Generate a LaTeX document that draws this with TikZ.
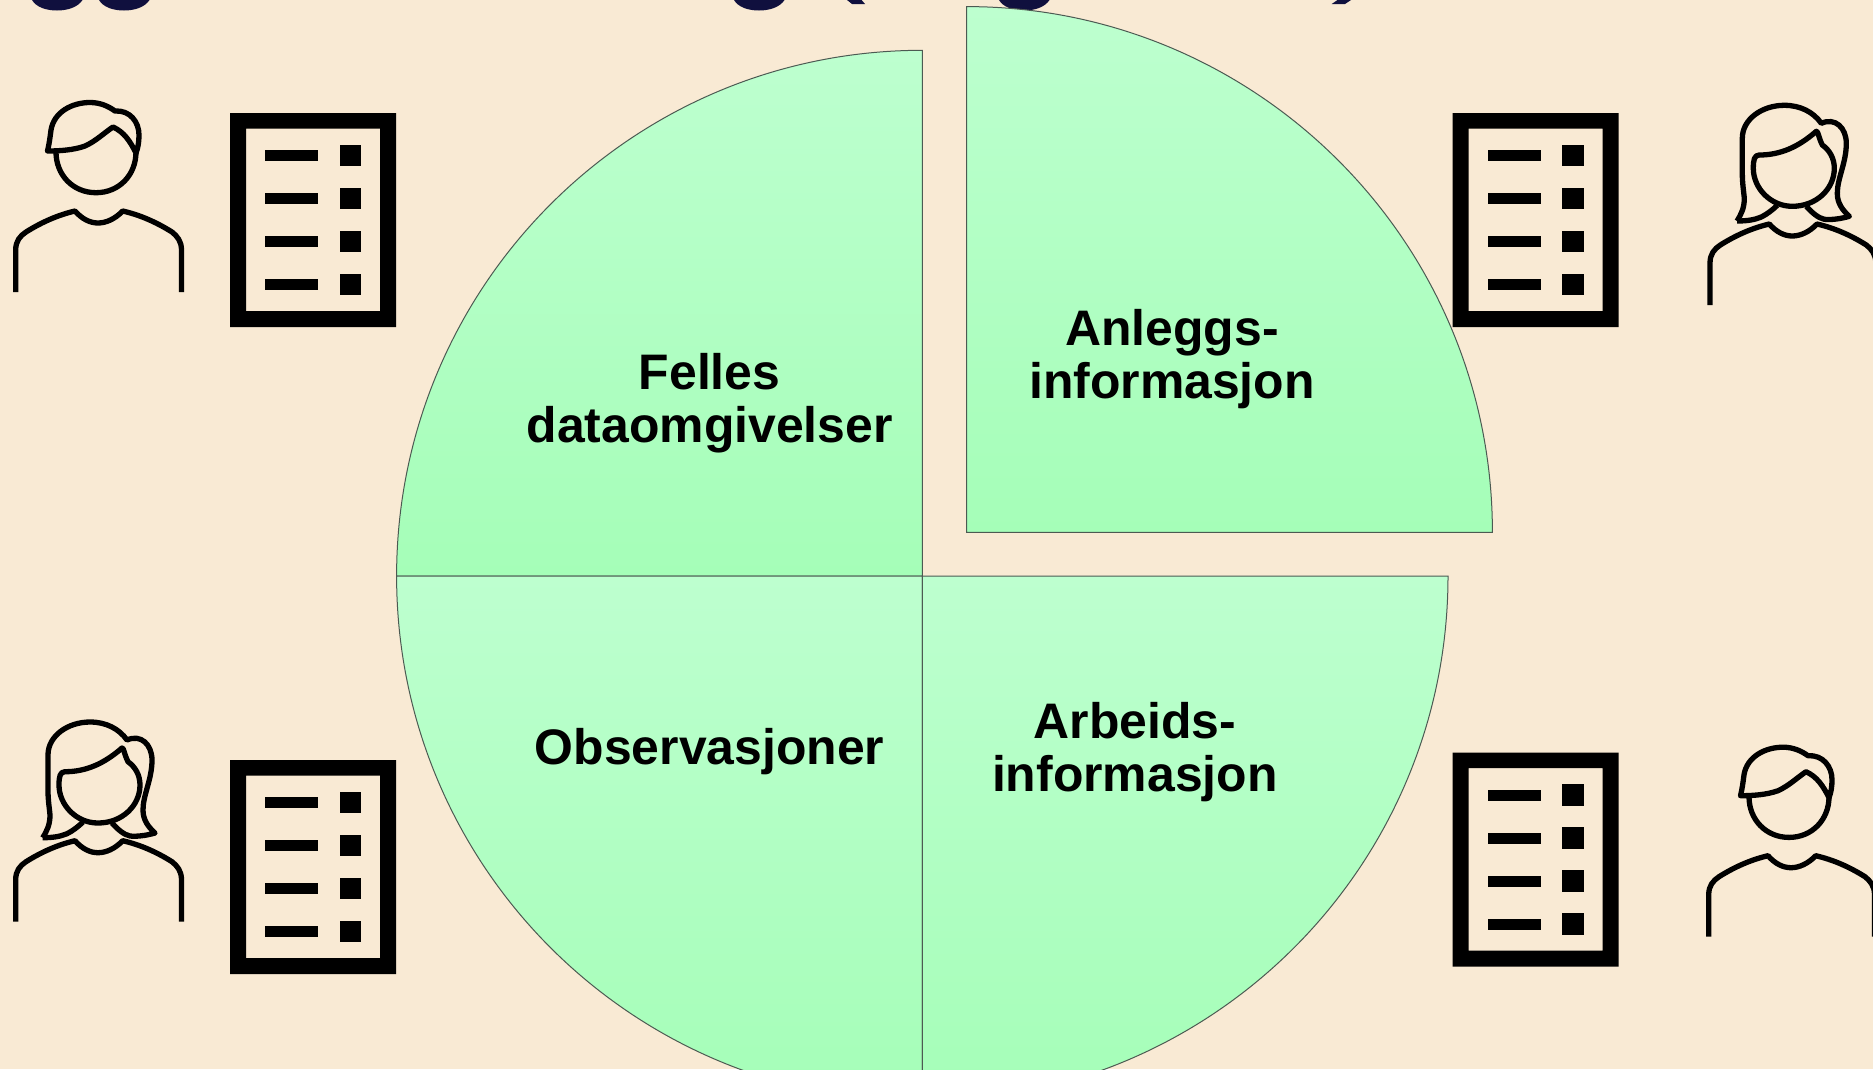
\documentclass[tikz,border=0pt]{standalone}
\usepackage{xcolor}
\usepackage{fontspec}
\setmainfont{Liberation Sans}
\usetikzlibrary{positioning}

\definecolor{paper}{HTML}{F9EAD4}
\definecolor{titlenavy}{HTML}{10103E}
\definecolor{sectortop}{HTML}{BDFFCF}
\definecolor{sectorbottom}{HTML}{A5FEB8}
\definecolor{sectoredge}{HTML}{4C5A52}

\tikzset{
  sector/.style = {draw=sectoredge, line width=1pt, line join=miter, top color=sectortop, bottom color=sectorbottom},
  sectorlabel/.style = {align=center, inner sep=0pt, font=\bfseries\fontsize{49.9}{53}\selectfont},
  iconline/.style = {draw=black, line width=5.3pt, line join=round},
  torso/.pic = {
    \draw[iconline] (15.7,292) -- (15.7,250) .. controls (15.7,241) and (20,236) .. (26,232)
      .. controls (42,222) and (58,215) .. (75,211)
      .. controls (82,219) and (90,223) .. (98,223)
      .. controls (106,223) and (115,219) .. (122.7,211)
      .. controls (140,215) and (156,222) .. (172,232)
      .. controls (177,236) and (181.5,241) .. (181.5,250) -- (181.5,292);
  },
  man/.pic = {
    \pic {torso};
    \draw[iconline] (56,152) .. controls (56,175) and (73,192.7) .. (96,192.7)
      .. controls (119,192.7) and (136,175) .. (136,152);
    \draw[iconline] (47.5,151) .. controls (49,145) and (50,138) .. (51,130)
      .. controls (54,112) and (72,102.5) .. (90,102.5)
      .. controls (100,102.5) and (108,106) .. (115,111)
      .. controls (130,110) and (139,122) .. (139,135)
      .. controls (139,142) and (138,148) .. (136,153)
      .. controls (130,141) and (124,132) .. (113,127)
      .. controls (104,133) and (96,141) .. (85,146)
      .. controls (74,150) and (60,151) .. (47.5,151) -- cycle;
  },
  woman/.pic = {
    \pic {torso};
    \draw[iconline] (65,142) .. controls (86,142) and (104,134) .. (122,118.3)
      .. controls (124,118.3) and (124,124) .. (128,132)
      .. controls (135,137) and (140,145) .. (140,155.3)
      .. controls (140,176) and (122,193.3) .. (98,193.3)
      .. controls (76,193.3) and (59,175) .. (59,155.3)
      .. controls (59,147) and (60,142) .. (65,142) -- cycle;
    \draw[iconline] (42.7,208) .. controls (47,201) and (50,195) .. (50,185.3)
      .. controls (49,175) and (48,170) .. (48,160.3)
      -- (48,125.3) .. controls (48,106) and (68,92.3) .. (90,92.3)
      .. controls (106,92.3) and (119,99) .. (127,110.3)
      .. controls (141,104) and (152,115) .. (152,130.3)
      .. controls (152,150) and (143,165) .. (143,180.3)
      .. controls (143,190) and (148,197) .. (155,203.3)
      .. controls (146,206) and (136,207) .. (130,206.3)
      .. controls (124,205) and (118,200) .. (112,193.3);
    \draw[iconline] (42.7,208) .. controls (52,208) and (60,207) .. (67,204)
      .. controls (73,201) and (78,197) .. (83,192.3);
  },
  listform/.pic = {
    \fill[black, even odd rule] (0,0) rectangle (166,214) (16,15.5) rectangle (150,198);
    \foreach \row in {0,1,2,3} {
      \fill[black] (35,37+43*\row) rectangle (88,48+43*\row);
      \fill[black] (109.5,31.7+43*\row) rectangle (131,53.2+43*\row);
    }
  },
  titledrop/.pic = {
    \fill[titlenavy] (0,0) .. controls (4,7) and (14,10.5) .. (25,10.5)
      .. controls (36,10.5) and (46,7) .. (50.5,0) -- cycle;
  },
}

\begin{document}
\begin{tikzpicture}[x=1pt, y=-1pt, on grid]
    \clip (0,0) rectangle (1873,1069);
    \fill[paper] (0,0) rectangle (1873,1069);

    \pic at (32,0) {titledrop};
    \pic at (99,0) {titledrop};
    \pic at (734,0) {titledrop};
    \pic at (999,0) {titledrop};
    \fill[titlenavy] (847,0) -- (852,4) -- (865,4) -- (861.6,0) -- cycle;
    \fill[titlenavy] (1337.5,0) -- (1331.7,4) -- (1345,4) -- (1351,0) -- cycle;

    \coordinate (centre) at (922.3,576);
    \coordinate (shifted) at (966.7,532.3);
    \draw[sector] (centre) -- ++(-525.7,0) arc[start angle=180, end angle=270, radius=525.7] -- cycle;
    \draw[sector] (shifted) -- ++(0,-525.7) arc[start angle=270, end angle=360, radius=525.7] -- cycle;
    \draw[sector] (centre) -- ++(0,525.7) arc[start angle=90, end angle=180, radius=525.7] -- cycle;
    \draw[sector] (centre) -- ++(525.7,0) arc[start angle=0, end angle=90, radius=525.7] -- cycle;

    \node[sectorlabel] (felles) at (709.6,403) {Felles\\dataomgivelser};
    \node[sectorlabel, above right=44pt and 462.4pt of felles] (anlegg) {Anleggs-\\informasjon};
    \node[sectorlabel, below right=349pt and 425.2pt of felles] (arbeid) {Arbeids-\\informasjon};
    \node[sectorlabel, below=349pt of felles] (observasjon) {Observasjoner};

    \coordinate (formfelles) at (230,113);
    \coordinate[right=1222.7pt of formfelles] (formanlegg);
    \coordinate[below=647pt of formfelles] (formobs);
    \coordinate[below=639.7pt of formanlegg] (formarbeid);
    \pic at (formfelles) {listform};
    \pic at (formanlegg) {listform};
    \pic at (formobs) {listform};
    \pic at (formarbeid) {listform};

    \pic at (0,0) {man};
    \pic at (1694.3,13) {woman};
    \pic at (0,629.7) {woman};
    \pic at (1693,644.7) {man};
\end{tikzpicture}
\end{document}
